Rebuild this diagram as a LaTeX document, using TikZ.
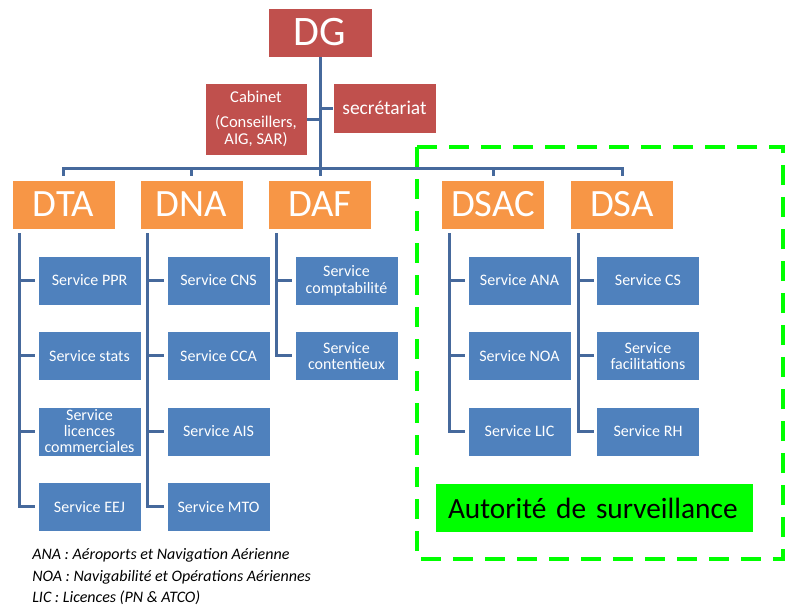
\documentclass[tikz,border=0pt]{standalone}
\usepackage{fontspec}
\setmainfont{Carlito}
\usetikzlibrary{chains,positioning}

\definecolor{dgred}{HTML}{C0504D}
\definecolor{dirorange}{HTML}{F79646}
\definecolor{servblue}{HTML}{4F81BD}
\definecolor{linkblue}{HTML}{46699C}
\definecolor{flashgreen}{HTML}{00FF00}

\begin{document}
\begin{tikzpicture}[x=0.75pt,y=-0.75pt]
\tikzstyle{link}=[draw=linkblue,line width=2.25pt]
\tikzstyle{unit}=[draw=white,line width=0.3pt,text=white,minimum width=77.25pt,minimum height=36.75pt,inner sep=0pt,align=center]
\tikzstyle{dgbox}=[unit,fill=dgred]
\tikzstyle{dirbox}=[unit,fill=dirorange,font=\fontsize{29}{29}\selectfont]
\tikzstyle{servbox}=[unit,fill=servblue,font=\fontsize{12}{12.5}\selectfont]
\tikzstyle{note}=[anchor=base west,inner sep=0pt,font=\itshape\fontsize{12}{12}\selectfont]

\useasboundingbox (0,0) rectangle (795,607);

%% Direction generale
\node [dgbox,minimum width=78pt,font=\fontsize{31.5}{31.5}\selectfont] (dg) at (320,32.5) {DG};
\node [dgbox,minimum width=76.5pt,minimum height=54pt,font=\fontsize{12.4}{12.75}\selectfont] (cabinet) at (256,119) {Cabinet\\[6.5pt](Conseillers,\\AIG, SAR)};
\node [dgbox,minimum height=37.5pt,font=\fontsize{14.6}{15}\selectfont] (secr) at (384.5,108) {secrétariat};

%% Directions
\node [dirbox] (dta) at (63.5,204.5) {DTA};
\node [dirbox] (dna) at (191.5,204.5) {DNA};
\node [dirbox] (daf) at (320,204.5) {DAF};
\node [dirbox] (dsac) at (493,204.5) {DSAC};
\node [dirbox] (dsa) at (622,204.5) {DSA};

%% Services
\begin{scope}[start chain=dtacol going below, start chain=dnacol going below, start chain=dafcol going below,
  start chain=dsaccol going below, start chain=dsacol going below, node distance=19.5pt]
    \node [on chain=dtacol,servbox] (ppr) at (89.5,280.5) {Service PPR};
    \node [on chain=dtacol,servbox] (stats) {Service stats};
    \node [on chain=dtacol,servbox,font=\fontsize{12}{12}\selectfont] (licences) {Service\\licences\\commerciales};
    \node [on chain=dtacol,servbox] (eej) {Service EEJ};

    \node [on chain=dnacol,servbox] (cns) at (218.5,280.5) {Service CNS};
    \node [on chain=dnacol,servbox] (cca) {Service CCA};
    \node [on chain=dnacol,servbox] (ais) {Service AIS};
    \node [on chain=dnacol,servbox] (mto) {Service MTO};

    \node [on chain=dafcol,servbox] (compta) at (346.5,280.5) {Service\\comptabilité};
    \node [on chain=dafcol,servbox] (contentieux) {Service\\contentieux};

    \node [on chain=dsaccol,servbox] (ana) at (519.5,280.5) {Service ANA};
    \node [on chain=dsaccol,servbox] (noa) {Service NOA};
    \node [on chain=dsaccol,servbox] (lic) {Service LIC};

    \node [on chain=dsacol,servbox] (cs) at (648,280.5) {Service CS};
    \node [on chain=dsacol,servbox] (facil) {Service\\facilitations};
    \node [on chain=dsacol,servbox] (rh) {Service RH};
\end{scope}

%% Links
\coordinate (bar) at (0,168);
\draw [link] (dg.south) -- (dg.south |- bar);
\draw [link] (cabinet.east) -- (cabinet.east -| dg.south);
\draw [link] (secr.west) -- (secr.west -| dg.south);
\draw [link] ([yshift=3pt]dta.north) -- (dta.north |- bar) -- (dsa.north |- bar) -- ([yshift=3pt]dsa.north);
\foreach \dir in {dna,daf,dsac}
    \draw [link] ([yshift=3pt]\dir.north) -- (\dir.north |- bar);

\foreach \serv in {ppr,stats,licences,eej}
    \draw [link] ([xshift=6pt,yshift=-3pt]dta.south west) |- ([xshift=-2pt]\serv.west);
\foreach \serv in {cns,cca,ais,mto}
    \draw [link] ([xshift=6pt,yshift=-3pt]dna.south west) |- ([xshift=-2pt]\serv.west);
\foreach \serv in {compta,contentieux}
    \draw [link] ([xshift=6pt,yshift=-3pt]daf.south west) |- ([xshift=-2pt]\serv.west);
\foreach \serv in {ana,noa,lic}
    \draw [link] ([xshift=6pt,yshift=-3pt]dsac.south west) |- ([xshift=-2pt]\serv.west);
\foreach \serv in {cs,facil,rh}
    \draw [link] ([xshift=6pt,yshift=-3pt]dsa.south west) |- ([xshift=-2pt]\serv.west);

%% Autorite de surveillance
\draw [flashgreen,line width=3pt,dash pattern=on 15pt off 9pt] (417,147) rectangle (783,559);
\node [fill=flashgreen,minimum height=36pt,inner xsep=9pt,inner ysep=0pt,text width=219.75pt,align=left,
  font=\fontsize{22}{22}\selectfont] (autorite) at (594.5,508) {Autorité de surveillance};

%% Notes
\node [note] (noteana) at (32,559.5) {ANA : Aéroports et Navigation Aérienne};
\node [note] (notenoa) at (32,581) {NOA : Navigabilité et Opérations Aériennes};
\node [note] (notelic) at (32,602.5) {LIC : Licences (PN \& ATCO)};

\end{tikzpicture}
\end{document}
